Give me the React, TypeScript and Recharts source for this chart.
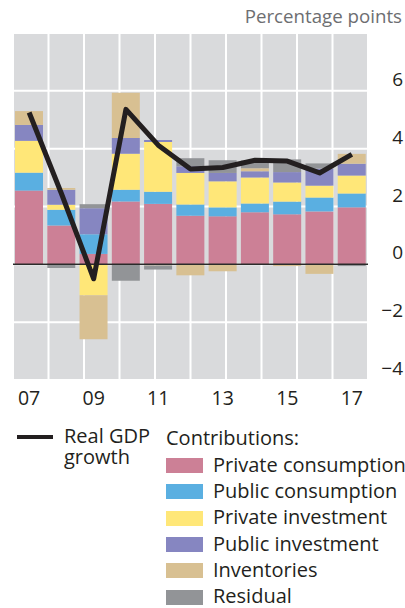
import { ComposedChart, Bar, Line, XAxis, YAxis, CartesianGrid, ReferenceLine } from "recharts";

const years = ["07", "08", "09", "10", "11", "12", "13", "14", "15", "16", "17"];
const privateConsumption = [2.55, 1.34, 0.36, 2.17, 2.09, 1.68, 1.66, 1.8, 1.73, 1.83, 1.97];
const publicConsumption = [0.62, 0.55, 0.68, 0.41, 0.42, 0.39, 0.31, 0.3, 0.44, 0.48, 0.48];
const privateInvestment = [1.1, 0.17, -1.07, 1.24, 1.72, 1.09, 0.9, 0.9, 0.66, 0.41, 0.62];
const publicInvestment = [0.55, 0.52, 0.9, 0.55, 0.07, 0.23, 0.29, 0.22, 0.36, 0.59, 0.41];
const inventories = [0.48, 0.06, -1.52, 1.56, -0.04, -0.38, -0.24, 0.1, -0.06, -0.33, 0.34];
const residual = [0, -0.13, 0.14, -0.57, -0.14, 0.28, 0.44, 0.27, 0.44, 0.18, -0.06];
const gdpGrowth = [5.25, 2.45, -0.5, 5.36, 4.12, 3.3, 3.35, 3.6, 3.57, 3.16, 3.8];

const yTicks = [-4, -2, 0, 2, 4, 6];
const edgeTicks = [0, 1, 2, 3, 4, 5, 6, 7, 8, 9, 10, 11];

const series = [
  { key: "pc", name: "Private consumption", color: "#cc8096", values: privateConsumption },
  { key: "gc", name: "Public consumption", color: "#5aafe1", values: publicConsumption },
  { key: "pi", name: "Private investment", color: "#ffe778", values: privateInvestment },
  { key: "gi", name: "Public investment", color: "#8686c1", values: publicInvestment },
  { key: "inv", name: "Inventories", color: "#d8c092", values: inventories },
  { key: "res", name: "Residual", color: "#929497", values: residual },
];

const data = years.map((year, i) => {
  const row: Record<string, string | number> = { year, gdp: gdpGrowth[i] };
  series.forEach((s) => {
    row[s.key] = s.values[i];
  });
  return row;
});

const FONT = "'Open Sans', sans-serif";
const TEXT = "#231f20";

const YTick = (props: any) => {
  const { x, y, payload } = props;
  const v = payload.value;
  return (
    <text x={x} y={y - 12} textAnchor="end" dominantBaseline="central" fill={TEXT} fontSize={19} fontFamily={FONT}>
      {v < 0 ? `\u2212${Math.abs(v)}` : v}
    </text>
  );
};

export default function App() {
  return (
    <div style={{ position: "absolute", left: 0, top: 0, width: 405, height: 608, background: "#fff", fontFamily: FONT, color: TEXT, overflow: "hidden" }}>
      <div style={{ position: "absolute", right: 3, top: 4, fontSize: 18.7, color: "#6d6e71", lineHeight: "24px" }}>
        Percentage points
      </div>

      <ComposedChart
        width={405}
        height={410}
        data={data}
        stackOffset="sign"
        margin={{ top: 33, right: 0, left: 13, bottom: 0 }}
      >
        <XAxis
          xAxisId="edge"
          type="number"
          domain={[0, 11]}
          ticks={edgeTicks}
          allowDataOverflow
          mirror
          height={0}
          axisLine={false}
          tickSize={14}
          tickLine={{ stroke: "#3a3a3a", strokeWidth: 1.5 }}
          tickFormatter={() => ""}
        />
        <CartesianGrid xAxisId="edge" fill="#d9dadc" stroke="#ffffff" strokeWidth={2} />
        <XAxis
          dataKey="year"
          interval={1}
          height={30}
          axisLine={false}
          tickLine={false}
          tickSize={0}
          tickMargin={11}
          tick={{ fill: TEXT, fontSize: 19.5, fontFamily: FONT }}
        />
        <YAxis
          orientation="right"
          width={37}
          domain={[-4, 8]}
          ticks={yTicks}
          axisLine={false}
          tickLine={false}
          tickSize={0}
          tickMargin={35}
          tick={<YTick />}
        />
        {series.map((s) => (
          <Bar key={s.key} dataKey={s.key} stackId="a" fill={s.color} barSize={28} isAnimationActive={false} />
        ))}
        <ReferenceLine y={0} stroke="#2b2b2b" strokeWidth={1.5} />
        <Line
          type="linear"
          dataKey="gdp"
          stroke={TEXT}
          strokeWidth={5}
          strokeLinejoin="round"
          dot={false}
          activeDot={false}
          isAnimationActive={false}
        />
      </ComposedChart>

      {/* Legend */}
      <div style={{ position: "absolute", left: 17, top: 435, width: 36, height: 4, background: TEXT }} />
      <div style={{ position: "absolute", left: 64, top: 425, fontSize: 20, lineHeight: "21px" }}>Real GDP</div>
      <div style={{ position: "absolute", left: 64, top: 446, fontSize: 20, lineHeight: "21px" }}>growth</div>
      <div style={{ position: "absolute", left: 166, top: 427, fontSize: 20, lineHeight: "21px" }}>
        Contributions:
      </div>
      {series.map((s, i) => (
        <div key={s.key}>
          <div
            style={{
              position: "absolute",
              left: 166,
              top: 458 + i * 26.3,
              width: 37,
              height: 15,
              background: s.color,
            }}
          />
          <div
            style={{
              position: "absolute",
              left: 213,
              top: 454 + i * 26.2,
              fontSize: 20,
              lineHeight: "21px",
              whiteSpace: "nowrap",
            }}
          >
            {s.name}
          </div>
        </div>
      ))}
    </div>
  );
}
